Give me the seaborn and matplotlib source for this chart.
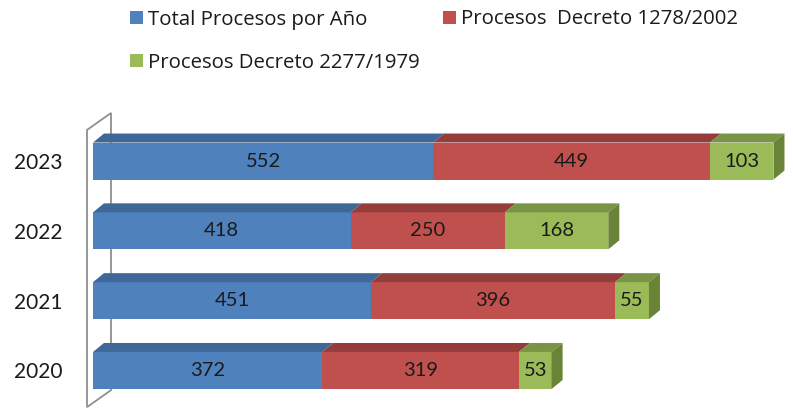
import pandas as pd
import matplotlib
matplotlib.use("Agg")
import matplotlib.pyplot as plt
from matplotlib.patches import Polygon, Patch
import seaborn as sns

# --- datos del grafico ---
years = ["2023", "2022", "2021", "2020"]
total_anio = [552, 418, 451, 372]
decreto_1278 = [449, 250, 396, 319]
decreto_2277 = [103, 168, 55, 53]
series = ["Total Procesos por Año", "Procesos  Decreto 1278/2002", "Procesos Decreto 2277/1979"]

# colores estilo Excel (frente, cara superior, lateral)
c_front = ["#4F81BD", "#C0504D", "#9BBB59"]
c_top = ["#3F6797", "#943D3B", "#7A9445"]
c_side = ["#3A5F8C", "#8A3735", "#6A8437"]

sns.set_theme(style="white")
plt.rcParams["font.family"] = ["Lato", "DejaVu Sans"]

df = pd.DataFrame({"Año": years, series[0]: total_anio,
                   series[1]: decreto_1278, series[2]: decreto_2277})
acum = df[series].cumsum(axis=1)
acum["Año"] = df["Año"]

W, H = 793, 409
fig = plt.figure(figsize=(W / 100, H / 100), dpi=100)
ax = fig.add_axes([93 / W, 0.0003, 696.5 / W, 0.734])

bar_w = 0.53
# barras apiladas: se dibuja primero el acumulado mayor
for k in reversed(range(3)):
    sns.barplot(data=acum, x=series[k], y="Año", order=years, orient="h",
                color=c_front[k], saturation=1, width=bar_w, linewidth=0, ax=ax, zorder=1)

ax.set_xlim(0, 1130)
ax.set_ylim(3.55, -0.75)
ax.set_xlabel("")
ax.set_ylabel("")
ax.set_xticks([])
for s in ax.spines.values():
    s.set_visible(False)
ax.tick_params(axis="y", length=0, pad=22, labelsize=15, labelcolor="#1a1a1a")

# profundidad 3D en pixeles -> unidades de datos
p = ax.transData.transform([(0, 0), (1, 1)])
sx = p[1, 0] - p[0, 0]
sy = p[0, 1] - p[1, 1]
dx, dy = 11 / sx, 9 / sy

# pared lateral (marco gris)
wx0, wx1 = -6 / sx, 18 / sx
wy0, wy1 = -0.445, 3.525
wall = Polygon([(wx0, wy1), (wx0, wy0), (wx1, wy0 - 17 / sy), (wx1, wy1 - 17 / sy)],
               closed=True, fill=False, edgecolor="#8f8f8f", linewidth=1.3,
               zorder=0.5, clip_on=False)
ax.add_patch(wall)

vals = df[series].to_numpy()
for i in range(len(years)):
    yt, yb = i - bar_w / 2, i + bar_w / 2
    start = 0
    for k in range(3):
        end = start + vals[i, k]
        ax.add_patch(Polygon([(start, yt), (end, yt), (end + dx, yt - dy), (start + dx, yt - dy)],
                             closed=True, facecolor=c_top[k], edgecolor="none", zorder=2))
        ax.text((start + end) / 2, i, str(vals[i, k]), ha="center", va="center",
                fontsize=14.5, color="#1a1a1a", zorder=3)
        start = end
    ax.add_patch(Polygon([(start, yt), (start + dx, yt - dy), (start + dx, yb - dy), (start, yb)],
                         closed=True, facecolor=c_side[2], edgecolor="none", zorder=2))

# leyenda: cada entrada en su sitio
hs = [Patch(facecolor=c, edgecolor="none") for c in c_front]
kw = dict(frameon=False, prop={"family": ["Open Sans", "DejaVu Sans"], "size": 14.7},
          handlelength=0.62, handleheight=0.62, handletextpad=0.26,
          borderpad=0, borderaxespad=0, loc="center left", labelcolor="#1a1a1a")
pos = [(130, 19.5), (443, 19.5), (130, 63)]
for h, lab, (px, py) in zip(hs, series, pos):
    fig.legend([h], [lab], bbox_to_anchor=(px / W, 1 - py / H), **kw)

fig.savefig("out.png", dpi=100)
